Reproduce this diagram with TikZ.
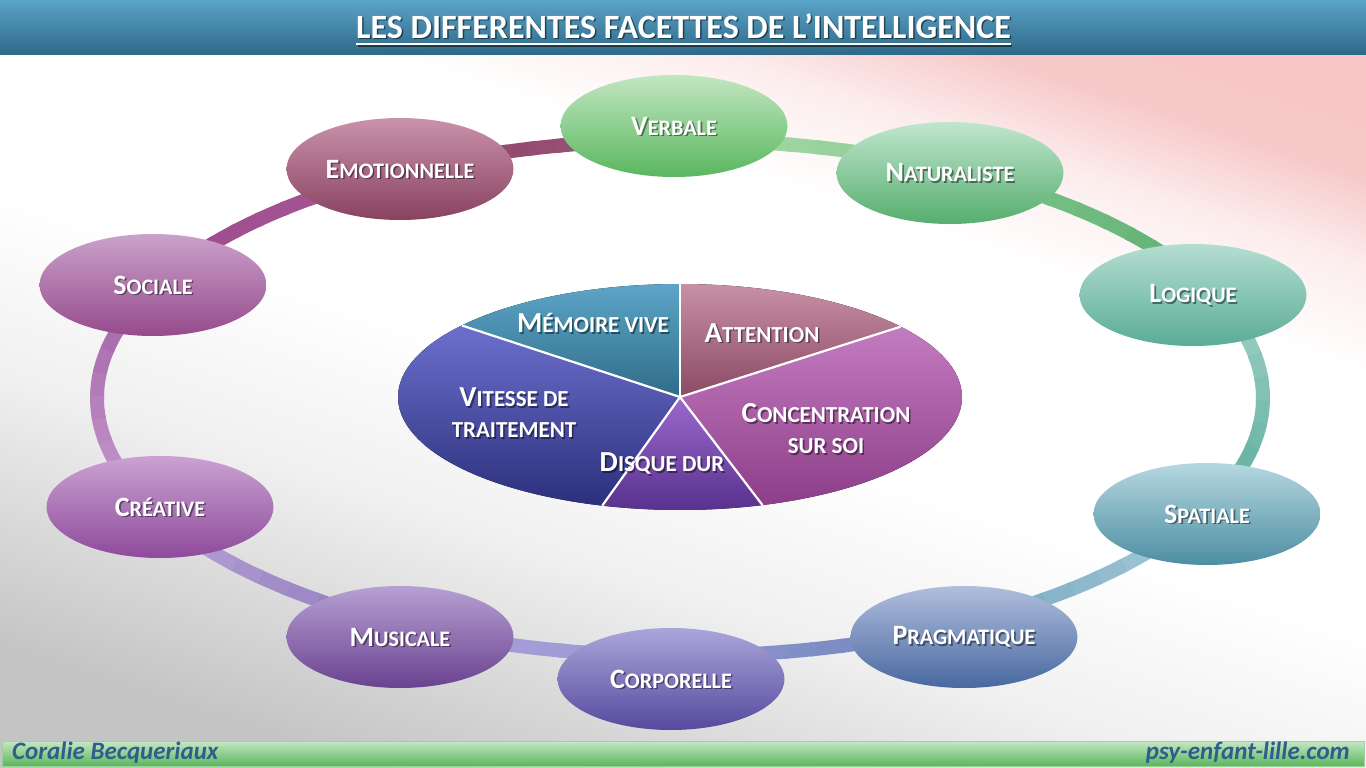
\documentclass[tikz,border=0pt]{standalone}
\usepackage{fontspec}
\setmainfont{Carlito}
\newfontfamily\scf[Scale=0.79]{Carlito}
\usetikzlibrary{shapes.geometric,calc}
\definecolor{bggray}{HTML}{C4C4C4}
\definecolor{bgpink}{HTML}{F6C2C2}
\definecolor{ttltop}{HTML}{5AA3C8}
\definecolor{ttlbot}{HTML}{2E6888}
\definecolor{foottop}{HTML}{C6E8C6}
\definecolor{footbot}{HTML}{5AB65A}
\definecolor{foottxt}{HTML}{2E5E8C}
\pgfdeclareverticalshading{bgsh}{100bp}{color(0bp)=(bggray); color(25bp)=(bggray); color(40bp)=(bggray!25!white); color(50bp)=(white); color(64bp)=(white); color(70bp)=(bgpink!30!white); color(75bp)=(bgpink!90!white); color(100bp)=(bgpink)}
\newcommand\sca[2]{#1{\scf\bfseries #2}}
\newcommand\ringseg[4]{%
  \definecolor{rcA}{HTML}{#3}\definecolor{rcB}{HTML}{#4}%
  \foreach \k in {0,...,9}{%
    \pgfmathsetmacro\ta{#1+(#2-#1)*\k/10}%
    \pgfmathsetmacro\tb{#1+(#2-#1)*(\k+1)/10+0.6}%
    \pgfmathtruncatemacro\p{100-\k*11}%
    \draw[ring,color={rcA!\p!rcB}] ({680+583*cos(\ta)},{398+258*sin(\ta)}) arc[start angle=\ta,end angle=\tb,x radius=583,y radius=258];
  }}
\newcommand\lbl[4]{% name, position, font size, text
  \node[lbltxt,font=\fontsize{#3}{31}\bfseries,text=black,opacity=.45,xshift=1.6pt,yshift=-1.6pt] (#1s) at (#2) {#4};
  \node[lbltxt,font=\fontsize{#3}{31}\bfseries,text=white] (#1) at (#2) {#4};}
\newcommand\slice[5]{% start, end, top, bottom, name
  \definecolor{slT}{HTML}{#3}\definecolor{slB}{HTML}{#4}%
  \fill[top color=slT,bottom color=slB] (pc) -- ({680+282*cos(#1)},{397+113*sin(#1)}) arc[start angle=#1,end angle=#2,x radius=282,y radius=113] -- cycle;
  \coordinate (#5) at ({680+282*cos(#1)},{397+113*sin(#1)});}
\newcommand\ellnode[4]{% name, position, top, bottom
  \definecolor{elT}{HTML}{#3}\definecolor{elB}{HTML}{#4}%
  \node[ell,top color=elT,bottom color=elB] (#1) at (#2) {};}
\begin{document}
\begin{tikzpicture}[x=1pt,y=-1pt,
  ring/.style={line width=14pt,line cap=butt},
  ell/.style={ellipse,minimum width=227pt,minimum height=102pt,inner sep=0pt},
  lbltxt/.style={align=center,inner sep=0pt}]
\useasboundingbox (0,0) rectangle (1366,768);
% background
\shade[shading=bgsh,shading angle=-18] (0,55) rectangle (1366,768);
% title bar
\shade[top color=ttltop,bottom color=ttlbot] (0,0) rectangle (1366,55);
\node[inner sep=0pt,font=\fontsize{34}{34}\bfseries,text=black,opacity=.5] (ttls) at (685,27.5) {LES DIFFERENTES FACETTES DE L’INTELLIGENCE};
\node[inner sep=0pt,font=\fontsize{34}{34}\bfseries,text=white] (ttl) at (683.5,26) {LES DIFFERENTES FACETTES DE L’INTELLIGENCE};
\draw[black,opacity=.5,line width=2pt] ([xshift=1.5pt,yshift=-7.5pt]ttl.base west) -- ([xshift=1.5pt,yshift=-7.5pt]ttl.base east);
\draw[white,line width=2pt] ([yshift=-6pt]ttl.base west) -- ([yshift=-6pt]ttl.base east);
% footer
\shade[top color=foottop,bottom color=footbot,draw=footbot!60!white] (2,741) rectangle (1364,766);
\node[anchor=west,inner sep=0pt,font=\fontsize{25}{25}\bfseries\itshape,text=foottxt] (auth) at (12,753) {Coralie Becqueriaux};
\node[anchor=east,inner sep=0pt,font=\fontsize{25}{25}\bfseries\itshape,text=foottxt] (site) at (1350,753) {psy-enfant-lille.com};
% ring
\ringseg{269}{298}{A8D8A8}{8CCC94}
\ringseg{298}{335}{7CC48A}{5EAE72}
\ringseg{335}{386}{9ED2C6}{5EAC9C}
\ringseg{386}{422}{A8CEDA}{78A8C0}
\ringseg{422}{451}{7088BE}{8E94CC}
\ringseg{451}{477}{9C98D4}{A8A0D8}
\ringseg{477}{515}{9078BA}{BAA8DA}
\ringseg{515}{566}{C498CC}{A462A6}
\ringseg{566}{601}{9A4A8C}{A85898}
\ringseg{601}{629}{8C4468}{9C5678}
% outer ellipses
\ellnode{verb}{674,126}{C2E6C2}{5AB75E}
\ellnode{natu}{950,173}{C0E6CE}{56AE6E}
\ellnode{logi}{1193,295}{B4DED2}{5AAC96}
\ellnode{spat}{1207,514}{B6D8E0}{4C8EA2}
\ellnode{prag}{964,637}{B0BEDC}{4868A0}
\ellnode{corp}{671,679}{AAA6DA}{56499E}
\ellnode{musi}{400,637}{B6A0D2}{6A4290}
\ellnode{crea}{160,507}{CAA2D2}{8E4A9C}
\ellnode{soci}{153,285}{CAA2CA}{964A8C}
\ellnode{emot}{400,169}{CA92AA}{884260}
\lbl{verbl}{verb}{28}{\sca{V}{ERBALE}}
\lbl{natul}{natu}{28}{\sca{N}{ATURALISTE}}
\lbl{logil}{logi}{28}{\sca{L}{OGIQUE}}
\lbl{spatl}{spat}{28}{\sca{S}{PATIALE}}
\lbl{pragl}{prag}{28}{\sca{P}{RAGMATIQUE}}
\lbl{corpl}{corp}{28}{\sca{C}{ORPORELLE}}
\lbl{musil}{musi}{28}{\sca{M}{USICALE}}
\lbl{creal}{crea}{28}{\sca{C}{RÉATIVE}}
\lbl{socil}{soci}{28}{\sca{S}{OCIALE}}
\lbl{emotl}{emot}{28}{\sca{E}{MOTIONNELLE}}
% central pie
\coordinate (pc) at (680,397);
\slice{-90}{-38.5}{C890A6}{8A4A64}{b1}
\slice{-38.5}{73}{C47CC0}{8C3E88}{b2}
\slice{73}{106}{9A6ACC}{58308E}{b3}
\slice{106}{219.3}{6C70CC}{2C2F7C}{b4}
\slice{219.3}{270}{5DA5C8}{2F6C88}{b5}
\foreach \b in {b1,b2,b3,b4,b5}{\draw[white,line width=2.2pt] (pc) -- (\b);}
\lbl{memo}{593,323}{29}{\sca{M}{ÉMOIRE VIVE}}
\lbl{atte}{762,333}{29}{\sca{A}{TTENTION}}
\lbl{conc}{826,429}{29}{\sca{C}{ONCENTRATION}\\{\scf\bfseries SUR SOI}}
\lbl{vite}{514,413}{29}{\sca{V}{ITESSE DE}\\{\scf\bfseries TRAITEMENT}}
\lbl{disq}{662,464}{29}{\sca{D}{ISQUE DUR}}
\end{tikzpicture}
\end{document}
